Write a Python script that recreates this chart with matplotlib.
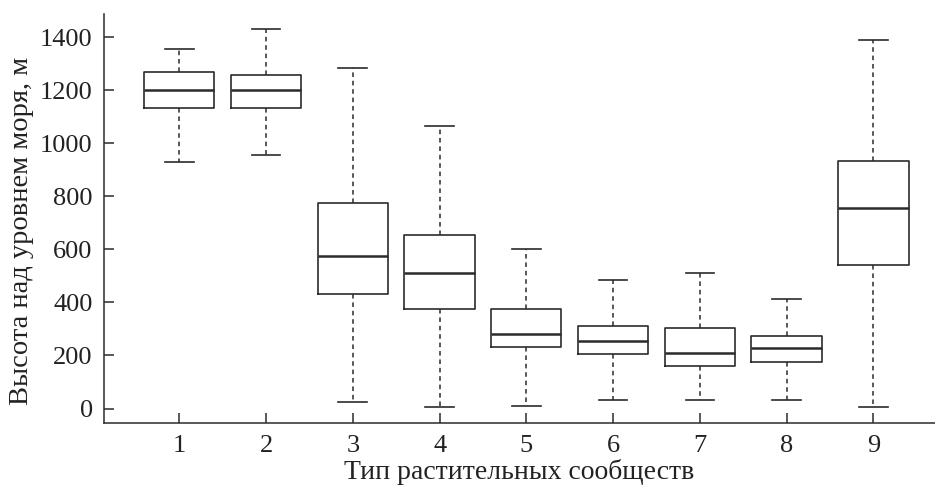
import numpy as np
import matplotlib
matplotlib.use('Agg')
import matplotlib.pyplot as plt

plt.rcParams['font.family'] = ['Liberation Serif', 'DejaVu Serif']

# box statistics (m above sea level)
types = [1, 2, 3, 4, 5, 6, 7, 8, 9]
whislo = [929, 956, 25, 4, 11, 32, 32, 32, 6]
q1     = [1132, 1132, 431, 376, 232, 205, 162, 177, 542]
med    = [1201, 1201, 576, 511, 282, 254, 209, 230, 755]
q3     = [1268, 1258, 774, 653, 376, 313, 304, 275, 932]
whishi = [1355, 1432, 1283, 1065, 601, 483, 511, 414, 1390]

stats = []
for i in range(len(types)):
    stats.append(dict(whislo=whislo[i], q1=q1[i], med=med[i], q3=q3[i],
                      whishi=whishi[i], label=str(types[i])))

col = '#2b2b2b'
fig = plt.figure(figsize=(9.35, 4.86), dpi=100)
ax = fig.add_axes([0.111, 0.130, 0.889, 0.841])

ax.bxp(stats, positions=types, widths=0.81, showfliers=False,
       boxprops=dict(color=col, linewidth=1.2),
       medianprops=dict(color=col, linewidth=1.8),
       whiskerprops=dict(color=col, linewidth=1.1, linestyle=(0, (3, 2.5))),
       capprops=dict(color=col, linewidth=1.2),
       capwidths=0.33)

ax.set_xlim(0.13, 9.71)
ax.set_ylim(-54, 1488)
ax.set_yticks([0, 200, 400, 600, 800, 1000, 1200, 1400])
ax.spines['top'].set_visible(False)
ax.spines['right'].set_visible(False)
for s in ['left', 'bottom']:
    ax.spines[s].set_linewidth(1.1)
    ax.spines[s].set_color(col)
ax.tick_params(direction='in', length=7, width=1.1, color=col,
               labelsize=19, labelcolor='#222222')
ax.tick_params(axis='x', pad=9)
ax.tick_params(axis='y', pad=8)
ax.set_xlabel('Тип растительных сообществ', fontsize=20, color='#222222', labelpad=1)
ax.set_ylabel('Высота над уровнем моря, м', fontsize=20.5, color='#222222', labelpad=4)
ax.yaxis.label.set_y(0.47)

fig.savefig('out.png', dpi=100)
